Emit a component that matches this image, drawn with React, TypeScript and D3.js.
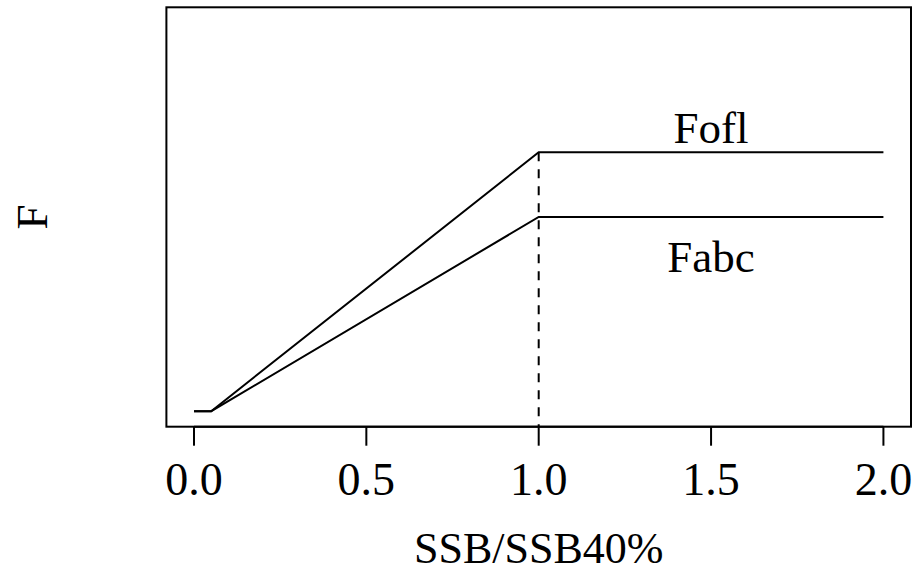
import React from 'react'
import * as d3 from 'd3'

// harvest control rule: F vs SSB/SSB40%
const ssbRatio = [0, 0.05, 1, 2]
const fofl = [0, 0, 1, 1]
const fabc = [0, 0, 0.75, 0.75]
const xTicks = [0, 0.5, 1, 1.5, 2]
const curveLabels = [
  { text: 'Fofl', x: 1.5, y: 1.1 },
  { text: 'Fabc', x: 1.5, y: 0.6 },
]
const xLabel = 'SSB/SSB40%'
const yLabel = 'F'

const width = 913
const height = 573
const box = { left: 166.4, right: 911, top: 7.3, bottom: 426.7 }
const font = '"Liberation Serif", "Times New Roman", serif'

const App = () => {
  // R style 4% padding around xlim c(0,2) and ylim c(0,1.5)
  const xScale = d3.scaleLinear().domain([-0.08, 2.08]).range([box.left, box.right])
  const yScale = d3.scaleLinear().domain([-0.06, 1.56]).range([box.bottom, box.top])

  const line = d3.line<number>()
    .x((d, i) => xScale(ssbRatio[i]))
    .y(d => yScale(d))

  const midX = (box.left + box.right) / 2
  const midY = (box.top + box.bottom) / 2

  return (
    <svg width={width} height={height}
      style={{ position: 'absolute', left: 0, top: 0, background: 'white' }}
      fontFamily={font}>
      <rect x={box.left} y={box.top} width={box.right - box.left} height={box.bottom - box.top}
        fill="none" stroke="black" strokeWidth={2} />

      {/* x axis */}
      <line x1={xScale(xTicks[0])} x2={xScale(xTicks[xTicks.length - 1])}
        y1={box.bottom} y2={box.bottom} stroke="black" strokeWidth={2} />
      {xTicks.map(t => (
        <g key={t}>
          <line x1={xScale(t)} x2={xScale(t)} y1={box.bottom} y2={box.bottom + 19}
            stroke="black" strokeWidth={2} />
          <text x={xScale(t)} y={495} fontSize={46} textAnchor="middle">{t.toFixed(1)}</text>
        </g>
      ))}

      <line x1={xScale(1)} x2={xScale(1)} y1={yScale(fofl[2])} y2={box.bottom}
        stroke="black" strokeWidth={2} strokeDasharray="9,8" />

      <path d={line(fofl) || ''} fill="none" stroke="black" strokeWidth={2} />
      <path d={line(fabc) || ''} fill="none" stroke="black" strokeWidth={2} />

      {curveLabels.map(l => (
        <text key={l.text} x={xScale(l.x)} y={yScale(l.y)} dy="0.36em"
          fontSize={45} textAnchor="middle">{l.text}</text>
      ))}

      <text x={midX} y={563} fontSize={44} textAnchor="middle">{xLabel}</text>
      <text transform={`translate(47,${midY}) rotate(-90)`} fontSize={45}
        textAnchor="middle">{yLabel}</text>
    </svg>
  )
}

export default App
